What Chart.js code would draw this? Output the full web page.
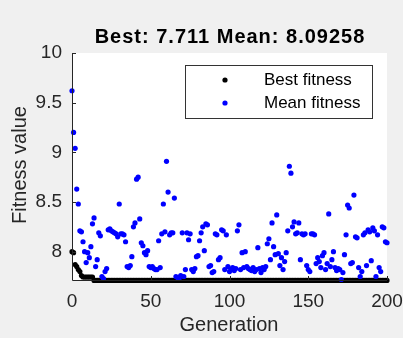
<!DOCTYPE html>
<html>
<head>
<meta charset="utf-8">
<script src="https://cdn.jsdelivr.net/npm/chart.js@4.4.0/dist/chart.umd.min.js"></script>
<style>
  html, body { margin: 0; padding: 0; background: #f0f0f0; }
  canvas { display: block; }
</style>
</head>
<body>
<canvas id="gaChart" width="403" height="338"></canvas>
<script>
// ===== Dados (geração 0..200)
const titleText = 'Best: 7.711 Mean: 8.09258';
const seriesNames = ['Best fitness', 'Mean fitness'];
const xTicks = [0, 50, 100, 150, 200];
const yTicks = [8, 8.5, 9, 9.5, 10];

const bestFitness = [
  8.00, 7.99, 7.87, 7.85, 7.82, 7.80, 7.76, 7.745, 7.745, 7.745,
  7.745, 7.745, 7.745, 7.745, 7.711, 7.711, 7.711, 7.711, 7.711, 7.711,
  7.711, 7.711, 7.711, 7.711, 7.711, 7.711, 7.711, 7.711, 7.711, 7.711,
  7.711, 7.711, 7.711, 7.711, 7.711, 7.711, 7.711, 7.711, 7.711, 7.711,
  7.711, 7.711, 7.711, 7.711, 7.711, 7.711, 7.711, 7.711, 7.711, 7.711,
  7.711, 7.711, 7.711, 7.711, 7.711, 7.711, 7.711, 7.711, 7.711, 7.711,
  7.711, 7.711, 7.711, 7.711, 7.711, 7.711, 7.711, 7.711, 7.711, 7.711,
  7.711, 7.711, 7.711, 7.711, 7.711, 7.711, 7.711, 7.711, 7.711, 7.711,
  7.711, 7.711, 7.711, 7.711, 7.711, 7.711, 7.711, 7.711, 7.711, 7.711,
  7.711, 7.711, 7.711, 7.711, 7.711, 7.711, 7.711, 7.711, 7.711, 7.711,
  7.711, 7.711, 7.711, 7.711, 7.711, 7.711, 7.711, 7.711, 7.711, 7.711,
  7.711, 7.711, 7.711, 7.711, 7.711, 7.711, 7.711, 7.711, 7.711, 7.711,
  7.711, 7.711, 7.711, 7.711, 7.711, 7.711, 7.711, 7.711, 7.711, 7.711,
  7.711, 7.711, 7.711, 7.711, 7.711, 7.711, 7.711, 7.711, 7.711, 7.711,
  7.711, 7.711, 7.711, 7.711, 7.711, 7.711, 7.711, 7.711, 7.711, 7.711,
  7.711, 7.711, 7.711, 7.711, 7.711, 7.711, 7.711, 7.711, 7.711, 7.711,
  7.711, 7.711, 7.711, 7.711, 7.711, 7.711, 7.711, 7.711, 7.711, 7.711,
  7.711, 7.711, 7.711, 7.711, 7.711, 7.711, 7.711, 7.711, 7.711, 7.711,
  7.711, 7.711, 7.711, 7.711, 7.711, 7.711, 7.711, 7.711, 7.711, 7.711,
  7.711, 7.711, 7.711, 7.711, 7.711, 7.711, 7.711, 7.711, 7.711, 7.711,
  7.711
];

const meanFitness = [
  9.62, 9.20, 9.04, 8.63, 8.48, 8.21, 8.20, 8.10, 8.00, 7.89,
  7.99, 7.94, 8.05, 8.28, 8.34, 7.85, 7.92, 8.19, 8.16, 7.75,
  7.73, 7.80, 7.83, 8.22, 8.23, 8.21, 8.20, 8.19, 8.18, 8.15,
  8.48, 8.18, 8.18, 8.17, 8.10, 7.85, 7.84, 7.86, 7.95, 8.25,
  8.29, 8.73, 8.75, 8.33, 8.09, 8.06, 7.99, 7.97, 8.01, 7.85,
  7.84, 7.85, 7.83, 7.82, 7.82, 8.11, 7.84, 8.18, 8.48, 8.20,
  8.91, 8.60, 8.17, 8.19, 8.19, 8.54, 7.75, 7.74, 7.73, 7.76,
  8.19, 7.75, 7.82, 8.19, 8.12, 8.18, 7.82, 7.80, 7.83, 7.95,
  7.96, 8.11, 8.19, 8.25, 8.01, 8.28, 8.27, 7.85, 7.86, 7.79,
  7.80, 8.18, 8.17, 7.92, 7.94, 8.22, 8.21, 7.82, 8.17, 7.85,
  7.80, 7.82, 7.84, 7.81, 7.83, 8.21, 8.27, 7.82, 7.99, 7.84,
  8.00, 7.85, 7.83, 7.82, 7.81, 7.84, 7.80, 7.82, 8.04, 7.83,
  7.79, 7.84, 7.82, 7.85, 8.08, 8.13, 7.92, 8.29, 8.05, 7.97,
  8.37, 7.98, 7.86, 7.94, 7.82, 7.90, 7.99, 8.21, 8.86, 8.79,
  8.25, 8.30, 8.18, 8.19, 8.29, 7.92, 8.18, 8.17, 8.18, 7.86,
  7.82, 7.80, 8.18, 8.18, 8.17, 7.88, 7.94, 7.90, 7.84, 7.96,
  7.99, 7.82, 7.88, 8.38, 7.85, 7.92, 8.00, 7.84, 7.81, 7.83,
  7.82, 7.72, 7.79, 7.97, 8.17, 8.47, 8.44, 7.88, 7.89, 8.57,
  8.15, 8.14, 7.84, 7.75, 7.80, 8.17, 8.19, 7.86, 8.22, 8.20,
  7.91, 8.24, 8.21, 7.75, 8.17, 7.84, 7.80, 8.25, 8.24, 8.10,
  8.09
];

// ===== Estilo tipo MATLAB
const FONT = '"Liberation Sans", Arial, sans-serif';
const INK = '#262626';

// geração = índice do array
const toPoints = arr => arr.map((v, i) => ({ x: i, y: v }));

const matlabLook = {
  id: 'matlabLook',
  beforeDraw(chart) {
    const { ctx, chartArea: a } = chart;
    ctx.save();
    ctx.fillStyle = '#f0f0f0';
    ctx.fillRect(0, 0, chart.width, chart.height);
    ctx.fillStyle = '#ffffff';
    ctx.fillRect(a.left, a.top, a.right - a.left, a.bottom - a.top);
    ctx.restore();
  },
  afterDraw(chart) {
    const { ctx, chartArea: a, scales: { x, y } } = chart;
    ctx.save();

    // eixos (box off)
    ctx.strokeStyle = INK;
    ctx.lineWidth = 1;
    ctx.beginPath();
    ctx.moveTo(a.left + 0.5, a.top);
    ctx.lineTo(a.left + 0.5, a.bottom + 0.5);
    ctx.lineTo(a.right, a.bottom + 0.5);
    ctx.stroke();

    // ticks para dentro
    ctx.beginPath();
    yTicks.forEach(v => {
      const py = Math.round(y.getPixelForValue(v)) + 0.5;
      ctx.moveTo(a.left, py); ctx.lineTo(a.left + 4, py);
    });
    xTicks.forEach(v => {
      const px = Math.round(x.getPixelForValue(v)) + 0.5;
      ctx.moveTo(px, a.bottom); ctx.lineTo(px, a.bottom - 4);
    });
    ctx.stroke();

    // legenda
    const lx = 185, ly = 65, lw = 187, lh = 53;
    ctx.fillStyle = '#ffffff';
    ctx.fillRect(lx, ly, lw, lh);
    ctx.strokeStyle = '#333333';
    ctx.strokeRect(lx + 0.5, ly + 0.5, lw, lh);
    const rows = [[seriesNames[0], '#000000', 80], [seriesNames[1], '#0000ff', 103]];
    ctx.font = '17px ' + FONT;
    ctx.textAlign = 'left';
    ctx.textBaseline = 'middle';
    rows.forEach(([label, color, cy]) => {
      ctx.fillStyle = color;
      ctx.beginPath();
      ctx.arc(225, cy, 2.6, 0, Math.PI * 2);
      ctx.fill();
      ctx.fillStyle = '#000000';
      ctx.fillText(label, 264, cy);
    });

    // título
    ctx.fillStyle = '#000000';
    ctx.font = 'bold 20px ' + FONT;
    ctx.textAlign = 'center';
    ctx.textBaseline = 'middle';
    ctx.letterSpacing = '1px';
    ctx.fillText(titleText, 230, 37);
    ctx.letterSpacing = '0px';

    // rótulos dos eixos
    ctx.fillStyle = INK;
    ctx.font = '20px ' + FONT;
    ctx.fillText('Generation', 229, 325);
    ctx.translate(20, 165);
    ctx.rotate(-Math.PI / 2);
    ctx.fillText('Fitness value', 0, 0);

    ctx.restore();
  }
};

new Chart(document.getElementById('gaChart'), {
  type: 'scatter',
  data: {
    datasets: [
      {
        label: seriesNames[1],
        data: toPoints(meanFitness),
        backgroundColor: '#0000ff',
        borderWidth: 0,
        pointRadius: 2.6,
        clip: false
      },
      {
        label: seriesNames[0],
        data: toPoints(bestFitness),
        backgroundColor: '#000000',
        borderWidth: 0,
        pointRadius: 2.6,
        clip: false
      }
    ]
  },
  options: {
    responsive: false,
    animation: false,
    events: [],
    layout: { padding: { top: 53, right: 16, bottom: 0, left: 0 } },
    plugins: {
      legend: { display: false },
      title: { display: false },
      tooltip: { enabled: false }
    },
    scales: {
      x: {
        type: 'linear',
        min: 0,
        max: 200,
        afterFit: s => { s.height = 58; s.paddingLeft = 0; s.paddingRight = 0; },
        afterBuildTicks: s => { s.ticks = xTicks.map(v => ({ value: v })); },
        grid: { display: false, drawTicks: false },
        border: { display: false },
        ticks: { color: INK, font: { family: FONT, size: 19 }, padding: 10, maxRotation: 0 }
      },
      y: {
        min: 7.715,
        max: 10,
        afterFit: s => { s.width = 72; s.paddingTop = 0; s.paddingBottom = 0; },
        afterBuildTicks: s => { s.ticks = yTicks.map(v => ({ value: v })); },
        grid: { display: false, drawTicks: false },
        border: { display: false },
        ticks: { color: INK, font: { family: FONT, size: 19 }, padding: 10, callback: v => String(v) }
      }
    }
  },
  plugins: [matlabLook]
});
</script>
</body>
</html>
